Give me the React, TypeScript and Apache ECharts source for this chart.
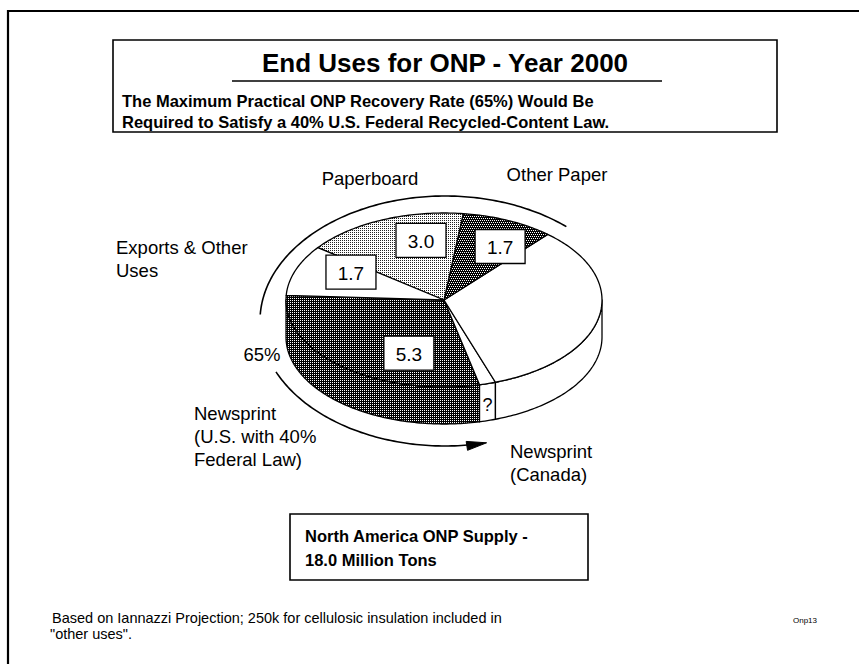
import React, { useEffect, useRef } from "react";
import * as echarts from "echarts";

// ---------------- data ----------------
const categories = [
  "Newsprint (U.S. with 40% Federal Law)",
  "Newsprint (unallocated)",
  "Newsprint (Canada)",
  "Other Paper",
  "Paperboard",
  "Exports & Other Uses",
];
const values = [5.3, 0.3, 6.0, 1.7, 3.0, 1.7];
const boxLabels = ["5.3", "?", "", "1.7", "3.0", "1.7"];
// slices spanned by the recovery-rate arrow (in drawing order of the arrow)
const recoveredCategories = ["Other Paper", "Paperboard", "Exports & Other Uses", "Newsprint (U.S. with 40% Federal Law)"];

const titleText = "End Uses for ONP - Year 2000";
const subtitleLines = [
  "The Maximum Practical ONP Recovery Rate (65%) Would Be",
  "Required to Satisfy a 40% U.S. Federal Recycled-Content Law.",
];
const footnoteLines = [
  "Based on Iannazzi Projection; 250k for cellulosic insulation included in",
  "\"other uses\".",
];
const pageCode = "Onp13";

// ---------------- style / layout ----------------
const FF = '"Liberation Sans", Arial, Helvetica, sans-serif';
const PIE = { cx: 444, cy: 300, rx: 158, ry: 87, depth: 37, startDeg: 183 };
const ARC = { cx: 445, cy: 321, rx: 185, ry: 125, gapFrom: 156, gapTo: 183 };
// label placement on top face: [angle shift from mid (deg), radius fraction]
const LABEL_PLACE: Record<string, [number, number]> = {
  "Newsprint (U.S. with 40% Federal Law)": [-20, 0.65],
  "Other Paper": [6, 0.71],
  "Paperboard": [11, 0.7],
  "Exports & Other Uses": [8.5, 0.67],
};
const OUTER_LABELS: { lines: string[]; x: number; y: number; align: string }[] = [
  { lines: ["Paperboard"], x: 370, y: 178, align: "center" },
  { lines: ["Other Paper"], x: 557, y: 174, align: "center" },
  { lines: ["Exports & Other", "Uses"], x: 116, y: 247, align: "left" },
  { lines: ["Newsprint", "(U.S. with 40%", "Federal Law)"], x: 194, y: 413, align: "left" },
  { lines: ["Newsprint", "(Canada)"], x: 510, y: 451, align: "left" },
];

function makePattern(bg: string, fg: string, size: number, dots: number[][]) {
  const c = document.createElement("canvas");
  c.width = size;
  c.height = size;
  const ctx = c.getContext("2d")!;
  ctx.fillStyle = bg;
  ctx.fillRect(0, 0, size, size);
  ctx.fillStyle = fg;
  dots.forEach(([x, y]) => ctx.fillRect(x, y, 1, 1));
  return { image: c, repeat: "repeat" } as any;
}

function rad(d: number) {
  return (d * Math.PI) / 180;
}

export default function App() {
  const ref = useRef<HTMLDivElement>(null);

  useEffect(() => {
    if (!ref.current) return;
    const chart = echarts.init(ref.current, undefined, { renderer: "svg" });

    const darkPat = makePattern("#000", "#fff", 2, [[0, 0]]);
    const midPat = makePattern("#000", "#fff", 4, [[0, 0], [2, 0], [1, 2], [3, 2]]);
    const lightPat = makePattern("#fff", "#222", 2, [[0, 0]]);
    const fills = [darkPat, "#fff", "#fff", midPat, lightPat, "#fff"];

    const total = values.reduce((a, b) => a + b, 0);
    let acc = 0;
    const ranges = values.map((v) => {
      const hi = PIE.startDeg - (acc / total) * 360;
      acc += v;
      const lo = PIE.startDeg - (acc / total) * 360;
      return [lo, hi];
    });

    const P = (t: number, r = 1, dz = 0) => [
      PIE.cx + PIE.rx * r * Math.cos(rad(t)),
      PIE.cy + PIE.ry * r * Math.sin(rad(t)) + dz,
    ];
    const arcPts = (a: number, b: number, dz: number) => {
      const n = Math.max(2, Math.ceil(Math.abs(b - a)));
      const pts: number[][] = [];
      for (let k = 0; k <= n; k++) pts.push(P(a + ((b - a) * k) / n, 1, dz));
      return pts;
    };

    const pieRender = (params: any) => {
      const i = params.dataIndex;
      const [lo, hi] = ranges[i];
      const fill = fills[i];
      const children: any[] = [];
      for (const k of [-1, 0, 1]) {
        const a = Math.max(lo + 360 * k, 0);
        const b = Math.min(hi + 360 * k, 180);
        if (b - a > 0.01) {
          const pts = arcPts(a, b, 0).concat(arcPts(b, a, PIE.depth));
          children.push({
            type: "polygon",
            shape: { points: pts },
            style: { fill, stroke: "#000", lineWidth: 1.3, lineJoin: "round" },
          });
        }
      }
      const top = [[PIE.cx, PIE.cy]].concat(arcPts(hi, lo, 0));
      children.push({
        type: "polygon",
        shape: { points: top },
        style: { fill, stroke: "#000", lineWidth: 1.3, lineJoin: "round" },
      });
      const name = categories[i];
      const txt = boxLabels[i];
      const mid = (lo + hi) / 2;
      if (txt && LABEL_PLACE[name]) {
        const [shift, r] = LABEL_PLACE[name];
        const [x, y] = P(mid + shift, r);
        children.push({
          type: "rect",
          z2: 10,
          shape: { x: x - 25, y: y - 17, width: 50, height: 34 },
          style: { fill: "#fff", stroke: "#000", lineWidth: 1.3 },
        });
        children.push({
          type: "text",
          z2: 11,
          style: { text: txt, x, y: y + 1, textAlign: "center", textVerticalAlign: "middle", font: `19px ${FF}`, fill: "#000" },
        });
      } else if (txt) {
        const [x, y] = P(mid, 1, PIE.depth / 2);
        children.push({
          type: "text",
          z2: 11,
          style: { text: txt, x, y: y + 3, textAlign: "center", textVerticalAlign: "middle", font: `18px ${FF}`, fill: "#000" },
        });
      }
      return { type: "group", children };
    };

    // recovery arrow, derived from slice ranges
    const recIdx = recoveredCategories.map((c) => categories.indexOf(c));
    const arcStart = ranges[recIdx[0]][1];
    let arcEnd = ranges[recIdx[recIdx.length - 1]][0];
    while (arcEnd > arcStart) arcEnd -= 360;
    const recShare = recIdx.reduce((s, j) => s + values[j], 0) / total;

    const A = (t: number) => [ARC.cx + ARC.rx * Math.cos(rad(t)), ARC.cy + ARC.ry * Math.sin(rad(t))];
    const arcRender = () => {
      const g1 = ARC.gapTo - 360;
      const g0 = ARC.gapFrom - 360;
      const seg = (a: number, b: number) => {
        const n = Math.max(2, Math.ceil(Math.abs(b - a)));
        const pts: number[][] = [];
        for (let k = 0; k <= n; k++) pts.push(A(a + ((b - a) * k) / n));
        return pts;
      };
      const tip = A(arcEnd);
      const tt = rad(arcEnd);
      let dx = ARC.rx * Math.sin(tt);
      let dy = -ARC.ry * Math.cos(tt);
      const len = Math.hypot(dx, dy);
      dx /= len;
      dy /= len;
      const L = 20;
      const W = 4.5;
      const base = [tip[0] - L * dx, tip[1] - L * dy];
      const lineEnd = arcEnd + 4;
      const children: any[] = [
        { type: "polyline", shape: { points: seg(arcStart, g1) }, style: { stroke: "#000", lineWidth: 1.6, fill: null } },
        { type: "polyline", shape: { points: seg(g0, lineEnd) }, style: { stroke: "#000", lineWidth: 1.6, fill: null } },
        {
          type: "polygon",
          shape: { points: [tip, [base[0] - W * dy, base[1] + W * dx], [base[0] + W * dy, base[1] - W * dx]] },
          style: { fill: "#000", stroke: "#000", lineWidth: 1 },
        },
        {
          type: "text",
          style: {
            text: Math.round(recShare * 100) + "%",
            x: 262,
            y: 354,
            textAlign: "center",
            textVerticalAlign: "middle",
            font: `18.5px ${FF}`,
            fill: "#000",
          },
        },
      ];
      return { type: "group", children };
    };

    const graphics: any[] = [
      { type: "line", shape: { x1: 7, y1: 11, x2: 859, y2: 11 }, style: { stroke: "#000", lineWidth: 2.2 } },
      { type: "line", shape: { x1: 8, y1: 10, x2: 8, y2: 664 }, style: { stroke: "#000", lineWidth: 2.2 } },
      { type: "rect", shape: { x: 113, y: 40, width: 664, height: 92 }, style: { fill: "none", stroke: "#000", lineWidth: 1.6 } },
      {
        type: "text",
        style: { text: titleText, x: 445, y: 63, textAlign: "center", textVerticalAlign: "middle", font: `bold 26px ${FF}`, fill: "#000" },
      },
      { type: "line", shape: { x1: 232, y1: 81, x2: 662, y2: 81 }, style: { stroke: "#000", lineWidth: 1.6 } },
      ...subtitleLines.map((t, k) => ({
        type: "text",
        style: { text: t, x: 122, y: 101 + k * 21, textAlign: "left", textVerticalAlign: "middle", font: `bold 16.5px ${FF}`, fill: "#000" },
      })),
      { type: "rect", shape: { x: 290, y: 514, width: 298, height: 66 }, style: { fill: "none", stroke: "#000", lineWidth: 1.6 } },
      {
        type: "text",
        style: { text: "North America ONP Supply -", x: 305, y: 536, textAlign: "left", textVerticalAlign: "middle", font: `bold 16.5px ${FF}`, fill: "#000" },
      },
      {
        type: "text",
        style: {
          text: `${values.reduce((a, b) => a + b, 0).toFixed(1)} Million Tons`,
          x: 305,
          y: 560,
          textAlign: "left",
          textVerticalAlign: "middle",
          font: `bold 16.5px ${FF}`,
          fill: "#000",
        },
      },
      ...footnoteLines.map((t, k) => ({
        type: "text",
        style: { text: t, x: k === 0 ? 52 : 50, y: 618 + k * 16, textAlign: "left", textVerticalAlign: "middle", font: `14.5px ${FF}`, fill: "#000" },
      })),
      {
        type: "text",
        style: { text: pageCode, x: 793, y: 620, textAlign: "left", textVerticalAlign: "middle", font: `8px ${FF}`, fill: "#000" },
      },
      ...OUTER_LABELS.flatMap((lb) =>
        lb.lines.map((t, k) => ({
          type: "text",
          style: {
            text: t,
            x: lb.x,
            y: lb.y + k * 23,
            textAlign: lb.align,
            textVerticalAlign: "middle",
            font: `18.5px ${FF}`,
            fill: "#000",
          },
        }))
      ),
    ];

    chart.setOption({
      animation: false,
      backgroundColor: "#fff",
      graphic: { elements: graphics },
      series: [
        {
          type: "custom",
          coordinateSystem: "none",
          renderItem: pieRender,
          data: values.map((v, i) => ({ name: categories[i], value: v })),
          silent: true,
        },
        {
          type: "custom",
          coordinateSystem: "none",
          renderItem: arcRender,
          data: [0],
          silent: true,
        },
      ],
    });

    return () => chart.dispose();
  }, []);

  return (
    <div
      ref={ref}
      style={{ position: "fixed", left: 0, top: 0, width: 859, height: 664, background: "#fff" }}
    />
  );
}
